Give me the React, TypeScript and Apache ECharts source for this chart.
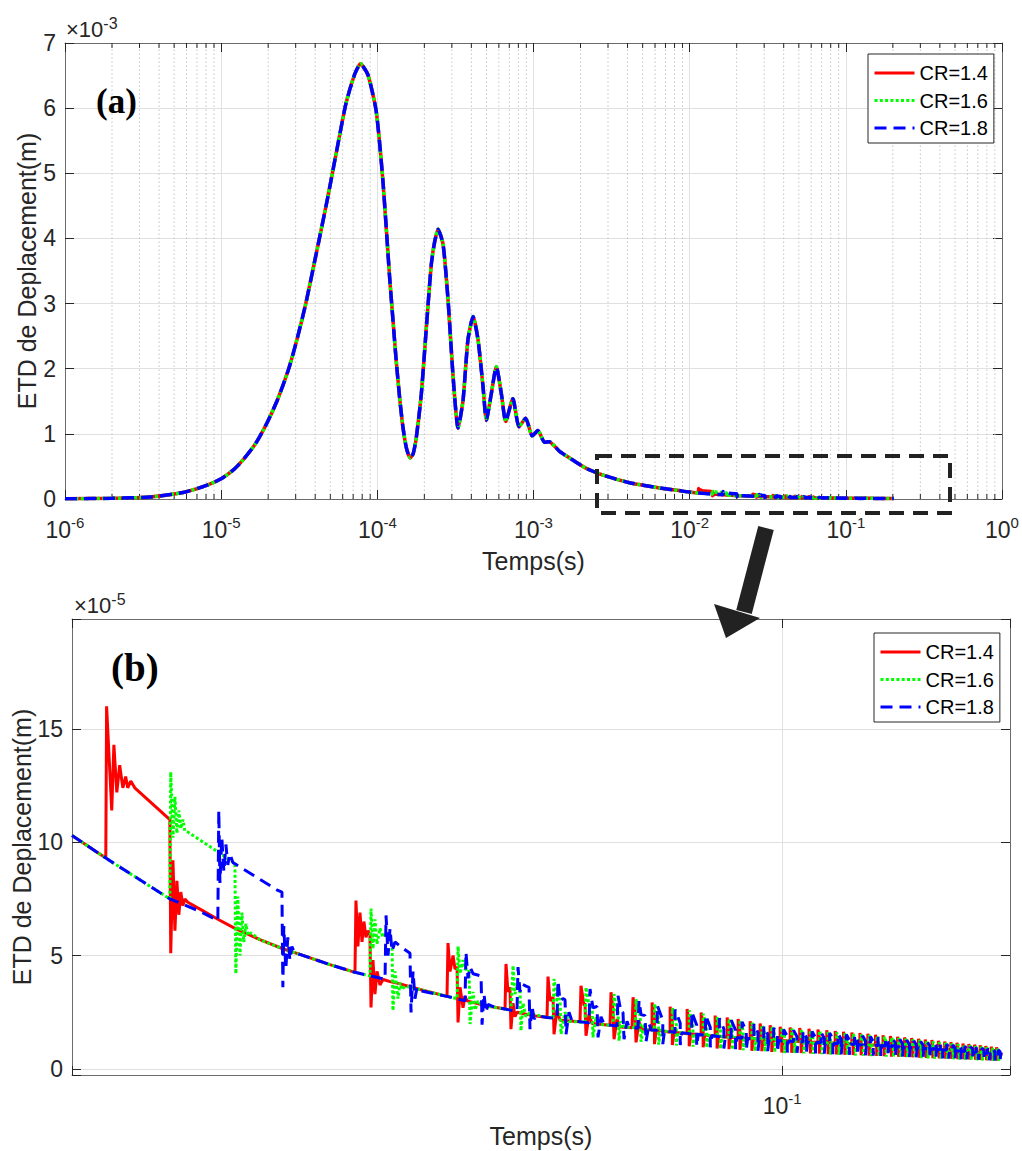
import React, { useEffect, useRef } from "react";
import * as echarts from "echarts";

const FONT = '"Liberation Sans", Arial, Helvetica, sans-serif';
const SERIF = '"Liberation Serif", "Times New Roman", serif';
const INK = "#262626";
const BOX = "#6b6b6b";
const GRID = "#e0e0e0";
const MINOR = "#c4c4c4";

const seriesNames = ["CR=1.4", "CR=1.6", "CR=1.8"];
const seriesColors = ["#ff0000", "#00ff00", "#0000ff"];

// ---- Panel (a): early response common to the three cases. time (s), ETD (x1e-3 m)
const earlyTime = [
  1e-6, 2e-6, 3.5e-6, 5.7e-6, 7.9e-6, 1e-5, 1.202e-5, 1.38e-5, 1.66e-5, 1.95e-5,
  2.291e-5, 2.692e-5, 3.02e-5, 3.467e-5, 4.074e-5, 4.786e-5, 5.495e-5, 6.31e-5, 7.161e-5, 7.8e-5,
  8.71e-5, 9.84e-5, 1.086e-4, 1.199e-4, 1.259e-4, 1.321e-4, 1.39e-4, 1.459e-4, 1.536e-4, 1.622e-4,
  1.698e-4, 1.778e-4, 1.914e-4, 2.061e-4, 2.218e-4, 2.33e-4, 2.449e-4, 2.636e-4, 2.838e-4, 3.055e-4,
  3.289e-4, 3.54e-4, 3.802e-4, 4.102e-4, 4.416e-4, 4.753e-4, 4.989e-4, 5.37e-4, 5.781e-4, 6.223e-4,
  6.637e-4, 7.379e-4, 8.072e-4, 8.913e-4, 9.817e-4, 1.067e-3, 1.178e-3, 1.259e-3, 1.469e-3, 1.702e-3,
  2.178e-3, 2.924e-3, 4.121e-3, 6.412e-3, 8.5e-3,
];
const earlyValue = [
  0.003, 0.01, 0.03, 0.1, 0.2, 0.31, 0.45, 0.6, 0.85, 1.15,
  1.52, 1.98, 2.4, 2.98, 3.78, 4.6, 5.35, 6.08, 6.52, 6.68,
  6.51, 5.95, 4.88, 3.4, 2.75, 2.12, 1.55, 1.1, 0.78, 0.63,
  0.7, 0.95, 1.62, 2.64, 3.61, 3.95, 4.14, 3.91, 3.05, 1.88,
  1.09, 1.52, 2.44, 2.8, 2.44, 1.72, 1.21, 1.62, 2.03, 1.62,
  1.19, 1.54, 1.11, 1.24, 0.97, 1.05, 0.87, 0.88, 0.73, 0.63,
  0.47, 0.35, 0.25, 0.17, 0.13,
];

// ---- Panel (b): late response, [time (s), ETD (x1e-5 m)]
const redPoints = [
  [0.0102, 10.3], [0.01137, 9.3], [0.0114, 16.0], [0.01159, 11.4], [0.01167, 14.3], [0.01178, 12.2],
  [0.01189, 13.4], [0.01201, 12.4], [0.01212, 12.9], [0.0122, 12.4], [0.01232, 12.7], [0.01248, 12.4],
  [0.01397, 11.0], [0.01401, 5.1], [0.01411, 9.2], [0.0142, 6.1], [0.01429, 8.3], [0.01438, 6.8],
  [0.01447, 7.8], [0.01457, 7.2], [0.01466, 7.5], [0.0148, 7.35], [0.01539, 7.05], [0.0163, 6.6],
  [0.01722, 6.2], [0.01866, 5.7], [0.02009, 5.3], [0.02122, 5.05], [0.02337, 4.6], [0.02533, 4.26],
  [0.02541, 7.43], [0.02557, 5.4], [0.02574, 6.9], [0.02591, 5.6], [0.02607, 6.5], [0.02624, 5.8],
  [0.02641, 6.1], [0.02658, 5.9], [0.02667, 2.71], [0.02684, 4.8], [0.02701, 3.3], [0.02719, 4.3],
  [0.02745, 3.7], [0.02772, 3.95], [0.0279, 3.92], [0.02835, 3.85], [0.02928, 3.75], [0.03122, 3.5],
  [0.03405, 3.2], [0.03416, 5.55], [0.03438, 4.3], [0.03472, 5.0], [0.03494, 4.4], [0.03517, 4.5],
  [0.03528, 2.05], [0.03551, 3.6], [0.03585, 2.7], [0.03608, 3.2], [0.03631, 3.0], [0.03848, 2.8],
  [0.04103, 2.64], [0.04116, 4.63], [0.04142, 3.4], [0.04169, 3.6], [0.04182, 1.75], [0.0421, 2.9],
  [0.04237, 2.3], [0.04264, 2.5], [0.04489, 2.35], [0.04696, 2.27], [0.04711, 4.07], [0.04742, 3.0],
  [0.04788, 3.16], [0.04803, 1.53], [0.04849, 2.6], [0.04896, 2.15], [0.05221, 2.08], [0.05238, 3.67],
  [0.05289, 2.8], [0.05306, 2.9], [0.05323, 1.46], [0.05375, 2.4], [0.05427, 2.0], [0.0575, 1.93],
  [0.05769, 3.38], [0.05806, 2.6], [0.05825, 1.31], [0.05881, 2.2], [0.05938, 1.85], [0.06172, 1.82],
  [0.06192, 3.16], [0.06232, 2.5], [0.06252, 1.17], [0.06312, 2.1], [0.06353, 1.76],
];
const greenPoints = [
  [0.0102, 10.3], [0.01137, 9.3], [0.01397, 7.5], [0.01401, 13.1], [0.01411, 10.2], [0.0142, 12.0],
  [0.01429, 10.4], [0.01438, 11.4], [0.01447, 10.6], [0.01457, 11.0], [0.01466, 10.5], [0.0148, 10.45],
  [0.01539, 10.1], [0.01722, 9.07], [0.01727, 4.2], [0.01738, 7.6], [0.0175, 5.0], [0.01761, 6.9],
  [0.01772, 5.6], [0.01784, 6.4], [0.01795, 5.9], [0.01813, 6.0], [0.01866, 5.7], [0.02009, 5.3],
  [0.02122, 5.05], [0.02337, 4.6], [0.02533, 4.26], [0.02658, 4.1], [0.02667, 7.07], [0.02684, 5.3],
  [0.02701, 6.6], [0.02719, 5.5], [0.02745, 6.2], [0.02772, 5.8], [0.0279, 6.0], [0.02853, 5.6],
  [0.02862, 2.57], [0.02881, 4.3], [0.02909, 3.1], [0.02928, 3.8], [0.02946, 3.5], [0.02975, 3.65],
  [0.03122, 3.5], [0.03405, 3.2], [0.03517, 3.1], [0.03528, 5.4], [0.03551, 4.2], [0.03585, 4.8],
  [0.03608, 4.4], [0.03655, 4.4], [0.03667, 1.98], [0.03702, 3.4], [0.03726, 2.6], [0.03762, 3.0],
  [0.03811, 2.8], [0.04103, 2.64], [0.04182, 2.58], [0.0421, 4.56], [0.04237, 3.3], [0.04264, 3.7],
  [0.04305, 3.5], [0.04319, 1.68], [0.04347, 2.9], [0.04389, 2.3], [0.04432, 2.45], [0.04696, 2.27],
  [0.04788, 2.25], [0.04803, 3.97], [0.0485, 3.0], [0.04896, 3.1], [0.04912, 1.53], [0.04976, 2.5],
  [0.0504, 2.1], [0.05306, 2.05], [0.05323, 3.6], [0.05375, 2.8], [0.05427, 2.85], [0.05444, 1.39],
  [0.05497, 2.3], [0.05533, 1.97], [0.05806, 1.91], [0.05825, 3.3], [0.05881, 2.5], [0.059, 2.55],
  [0.0592, 1.24], [0.05957, 2.1], [0.06015, 1.85], [0.06232, 1.81], [0.06252, 3.08], [0.06292, 2.4],
  [0.06333, 2.4], [0.06353, 1.2], [0.06416, 2.0], [0.06456, 1.74],
];
const bluePoints = [
  [0.0102, 10.3], [0.01137, 9.3], [0.01397, 7.5], [0.01539, 6.95], [0.0163, 6.55], [0.01635, 11.4],
  [0.01641, 8.2], [0.01651, 10.2], [0.01662, 8.7], [0.01673, 9.9], [0.01683, 9.0], [0.01694, 9.5],
  [0.01711, 9.1], [0.01722, 9.05], [0.0197, 7.9], [0.02003, 7.8], [0.02009, 3.6], [0.02015, 6.3],
  [0.02028, 4.4], [0.02041, 5.8], [0.02055, 4.8], [0.02068, 5.4], [0.02088, 5.1], [0.02122, 5.05],
  [0.02337, 4.6], [0.02533, 4.26], [0.0279, 3.95], [0.02799, 6.77], [0.02817, 5.0], [0.02835, 6.2],
  [0.02853, 5.2], [0.02881, 5.6], [0.02946, 5.35], [0.03023, 5.1], [0.03033, 2.49], [0.03053, 4.3],
  [0.03072, 3.1], [0.03092, 3.6], [0.03122, 3.45], [0.03405, 3.2], [0.03608, 3.0], [0.03619, 5.15],
  [0.03643, 4.0], [0.03667, 4.5], [0.03702, 4.2], [0.03799, 4.1], [0.03811, 1.95], [0.03835, 3.3],
  [0.0386, 2.5], [0.03886, 2.85], [0.03948, 2.75], [0.04103, 2.64], [0.04264, 2.53], [0.04278, 4.49],
  [0.04305, 3.4], [0.04333, 3.75], [0.04389, 3.65], [0.04432, 3.6], [0.04446, 1.75], [0.04475, 2.8],
  [0.04504, 2.2], [0.04548, 2.35], [0.04696, 2.27], [0.0485, 2.22], [0.04865, 3.89], [0.04896, 3.0],
  [0.04944, 3.1], [0.04976, 3.05], [0.04992, 1.53], [0.0504, 2.5], [0.0509, 2.1], [0.05221, 2.08],
  [0.05375, 2.03], [0.05392, 3.52], [0.05444, 2.7], [0.05515, 2.75], [0.05533, 1.39], [0.05586, 2.3],
  [0.05642, 1.97], [0.05881, 1.89], [0.059, 3.23], [0.05957, 2.5], [0.05995, 2.5], [0.06015, 1.31],
  [0.06073, 2.1], [0.06114, 1.84], [0.06292, 1.79], [0.06312, 3.01], [0.06353, 2.4], [0.06435, 2.35],
  [0.06456, 1.2], [0.06519, 2.0], [0.06562, 1.72],
];

// dense pulses: [tUp, base, peak, tDown, plateau, low, tBack]
const redPulses = [
  [0.06583, 1.72, 2.93, 0.06633, 2.2, 1.09, 0.06673], [0.06976, 1.62, 2.74, 0.07026, 2.07, 1.05, 0.07066],
  [0.07367, 1.55, 2.64, 0.07417, 1.99, 1.0, 0.07457], [0.07707, 1.49, 2.49, 0.07757, 1.89, 0.95, 0.07797],
  [0.08062, 1.44, 2.35, 0.08112, 1.8, 0.9, 0.08152], [0.08379, 1.4, 2.27, 0.08429, 1.75, 0.87, 0.08469],
  [0.08681, 1.37, 2.2, 0.08731, 1.7, 0.84, 0.08771], [0.09022, 1.33, 2.1, 0.09072, 1.64, 0.8, 0.09112],
  [0.09317, 1.3, 2.0, 0.09367, 1.58, 0.78, 0.09407], [0.09621, 1.27, 1.93, 0.09671, 1.53, 0.75, 0.09711],
  [0.09936, 1.25, 1.86, 0.09986, 1.49, 0.72, 0.10026], [0.1026, 1.23, 1.83, 0.1031, 1.47, 0.71, 0.1035],
  [0.1058, 1.21, 1.8, 0.1063, 1.45, 0.7, 0.1067], [0.109, 1.19, 1.77, 0.1095, 1.42, 0.68, 0.1099],
  [0.1122, 1.17, 1.74, 0.1127, 1.4, 0.67, 0.1131], [0.1154, 1.15, 1.7, 0.1159, 1.37, 0.65, 0.1163],
  [0.1186, 1.14, 1.67, 0.1191, 1.35, 0.64, 0.1195], [0.1218, 1.12, 1.64, 0.1223, 1.33, 0.62, 0.1227],
  [0.1251, 1.1, 1.61, 0.1256, 1.3, 0.61, 0.126], [0.1284, 1.08, 1.58, 0.1289, 1.28, 0.6, 0.1293],
  [0.1317, 1.06, 1.55, 0.1322, 1.26, 0.58, 0.1326], [0.135, 1.05, 1.51, 0.1355, 1.23, 0.57, 0.1359],
  [0.1383, 1.03, 1.48, 0.1388, 1.21, 0.56, 0.1392], [0.1416, 1.01, 1.45, 0.1421, 1.19, 0.54, 0.1425],
  [0.1449, 0.99, 1.42, 0.1454, 1.16, 0.53, 0.1458], [0.1482, 0.97, 1.39, 0.1487, 1.14, 0.52, 0.1491],
  [0.1516, 0.95, 1.36, 0.1521, 1.11, 0.51, 0.1525], [0.155, 0.93, 1.33, 0.1555, 1.09, 0.49, 0.1559],
  [0.1584, 0.91, 1.3, 0.1589, 1.07, 0.48, 0.1593], [0.1618, 0.89, 1.27, 0.1623, 1.04, 0.47, 0.1627],
  [0.1652, 0.87, 1.24, 0.1657, 1.02, 0.46, 0.1661], [0.1686, 0.85, 1.21, 0.1691, 0.99, 0.45, 0.1695],
  [0.172, 0.83, 1.18, 0.1725, 0.97, 0.44, 0.1729], [0.1754, 0.81, 1.15, 0.1759, 0.95, 0.43, 0.1763],
  [0.1788, 0.79, 1.12, 0.1793, 0.92, 0.42, 0.1797], [0.1822, 0.77, 1.1, 0.1827, 0.9, 0.41, 0.1831],
  [0.1856, 0.75, 1.07, 0.1861, 0.88, 0.4, 0.1865], [0.189, 0.73, 1.04, 0.1895, 0.85, 0.39, 0.1899],
  [0.1924, 0.71, 1.01, 0.1929, 0.83, 0.38, 0.1933], [0.1958, 0.69, 0.98, 0.1963, 0.81, 0.37, 0.1967],
  [0.1992, 0.67, 0.95, 0.1997, 0.78, 0.36, 0.2001],
];
const greenPulses = [
  [0.06633, 1.71, 2.87, 0.06723, 2.2, 1.07, 0.06763], [0.07026, 1.61, 2.68, 0.07116, 2.06, 1.03, 0.07156],
  [0.07417, 1.54, 2.58, 0.07507, 1.98, 0.98, 0.07547], [0.07757, 1.48, 2.43, 0.07847, 1.88, 0.93, 0.07887],
  [0.08112, 1.43, 2.29, 0.08202, 1.79, 0.88, 0.08242], [0.08429, 1.39, 2.21, 0.08519, 1.74, 0.85, 0.08559],
  [0.08731, 1.36, 2.14, 0.08821, 1.69, 0.82, 0.08861], [0.09072, 1.32, 2.04, 0.09162, 1.63, 0.78, 0.09202],
  [0.09367, 1.29, 1.94, 0.09457, 1.57, 0.76, 0.09497], [0.09671, 1.26, 1.87, 0.09761, 1.52, 0.73, 0.09801],
  [0.09986, 1.24, 1.8, 0.10076, 1.48, 0.7, 0.10116], [0.1031, 1.22, 1.77, 0.104, 1.46, 0.69, 0.1044],
  [0.1063, 1.2, 1.74, 0.1072, 1.43, 0.68, 0.1076], [0.1095, 1.18, 1.71, 0.1104, 1.41, 0.66, 0.1108],
  [0.1127, 1.16, 1.68, 0.1136, 1.38, 0.65, 0.114], [0.1159, 1.14, 1.64, 0.1168, 1.36, 0.63, 0.1172],
  [0.1191, 1.13, 1.61, 0.12, 1.34, 0.62, 0.1204], [0.1223, 1.11, 1.58, 0.1232, 1.31, 0.6, 0.1236],
  [0.1256, 1.09, 1.55, 0.1265, 1.29, 0.59, 0.1269], [0.1289, 1.07, 1.52, 0.1298, 1.27, 0.58, 0.1302],
  [0.1322, 1.05, 1.49, 0.1331, 1.24, 0.56, 0.1335], [0.1355, 1.04, 1.45, 0.1364, 1.22, 0.55, 0.1368],
  [0.1388, 1.02, 1.42, 0.1397, 1.2, 0.54, 0.1401], [0.1421, 1.0, 1.39, 0.143, 1.17, 0.52, 0.1434],
  [0.1454, 0.98, 1.36, 0.1463, 1.15, 0.51, 0.1467], [0.1487, 0.96, 1.33, 0.1496, 1.12, 0.5, 0.15],
  [0.1521, 0.94, 1.3, 0.153, 1.1, 0.49, 0.1534], [0.1555, 0.92, 1.27, 0.1564, 1.08, 0.47, 0.1568],
  [0.1589, 0.9, 1.24, 0.1598, 1.05, 0.46, 0.1602], [0.1623, 0.88, 1.21, 0.1632, 1.03, 0.45, 0.1636],
  [0.1657, 0.86, 1.18, 0.1666, 1.0, 0.44, 0.167], [0.1691, 0.84, 1.15, 0.17, 0.98, 0.43, 0.1704],
  [0.1725, 0.82, 1.12, 0.1734, 0.96, 0.42, 0.1738], [0.1759, 0.8, 1.09, 0.1768, 0.93, 0.41, 0.1772],
  [0.1793, 0.78, 1.06, 0.1802, 0.91, 0.4, 0.1806], [0.1827, 0.76, 1.04, 0.1836, 0.89, 0.39, 0.184],
  [0.1861, 0.74, 1.01, 0.187, 0.86, 0.38, 0.1874], [0.1895, 0.72, 0.98, 0.1904, 0.84, 0.37, 0.1908],
  [0.1929, 0.7, 0.95, 0.1938, 0.82, 0.36, 0.1942], [0.1963, 0.68, 0.92, 0.1972, 0.79, 0.35, 0.1976],
  [0.1997, 0.66, 0.89, 0.2006, 0.77, 0.34, 0.201],
];
const bluePulses = [
  [0.06693, 1.7, 2.81, 0.06813, 2.15, 1.09, 0.06853], [0.07086, 1.6, 2.62, 0.07206, 2.02, 1.05, 0.07246],
  [0.07477, 1.53, 2.52, 0.07597, 1.94, 1.0, 0.07637], [0.07817, 1.47, 2.37, 0.07937, 1.84, 0.95, 0.07977],
  [0.08172, 1.42, 2.23, 0.08292, 1.76, 0.9, 0.08332], [0.08489, 1.38, 2.15, 0.08609, 1.71, 0.87, 0.08649],
  [0.08791, 1.35, 2.08, 0.08911, 1.66, 0.84, 0.08951], [0.09132, 1.31, 1.98, 0.09252, 1.6, 0.8, 0.09292],
  [0.09427, 1.28, 1.88, 0.09547, 1.54, 0.78, 0.09587], [0.09731, 1.25, 1.81, 0.09851, 1.49, 0.75, 0.09891],
  [0.10046, 1.23, 1.74, 0.10166, 1.45, 0.72, 0.10206], [0.1037, 1.21, 1.71, 0.1049, 1.42, 0.71, 0.1053],
  [0.1069, 1.19, 1.68, 0.1081, 1.4, 0.7, 0.1085], [0.1101, 1.17, 1.65, 0.1113, 1.38, 0.68, 0.1117],
  [0.1133, 1.15, 1.62, 0.1145, 1.35, 0.67, 0.1149], [0.1165, 1.13, 1.58, 0.1177, 1.33, 0.65, 0.1181],
  [0.1197, 1.12, 1.55, 0.1209, 1.31, 0.64, 0.1213], [0.1229, 1.1, 1.52, 0.1241, 1.28, 0.62, 0.1245],
  [0.1262, 1.08, 1.49, 0.1274, 1.26, 0.61, 0.1278], [0.1295, 1.06, 1.46, 0.1307, 1.24, 0.6, 0.1311],
  [0.1328, 1.04, 1.43, 0.134, 1.21, 0.58, 0.1344], [0.1361, 1.03, 1.39, 0.1373, 1.19, 0.57, 0.1377],
  [0.1394, 1.01, 1.36, 0.1406, 1.17, 0.56, 0.141], [0.1427, 0.99, 1.33, 0.1439, 1.14, 0.54, 0.1443],
  [0.146, 0.97, 1.3, 0.1472, 1.12, 0.53, 0.1476], [0.1493, 0.95, 1.27, 0.1505, 1.09, 0.52, 0.1509],
  [0.1527, 0.93, 1.24, 0.1539, 1.07, 0.51, 0.1543], [0.1561, 0.91, 1.21, 0.1573, 1.05, 0.49, 0.1577],
  [0.1595, 0.89, 1.18, 0.1607, 1.02, 0.48, 0.1611], [0.1629, 0.87, 1.15, 0.1641, 1.0, 0.47, 0.1645],
  [0.1663, 0.85, 1.12, 0.1675, 0.97, 0.46, 0.1679], [0.1697, 0.83, 1.09, 0.1709, 0.95, 0.45, 0.1713],
  [0.1731, 0.81, 1.06, 0.1743, 0.93, 0.44, 0.1747], [0.1765, 0.79, 1.03, 0.1777, 0.9, 0.43, 0.1781],
  [0.1799, 0.77, 1.0, 0.1811, 0.88, 0.42, 0.1815], [0.1833, 0.75, 0.98, 0.1845, 0.86, 0.41, 0.1849],
  [0.1867, 0.73, 0.95, 0.1879, 0.83, 0.4, 0.1883], [0.1901, 0.71, 0.92, 0.1913, 0.81, 0.39, 0.1917],
  [0.1935, 0.69, 0.89, 0.1947, 0.79, 0.38, 0.1951], [0.1969, 0.67, 0.86, 0.1981, 0.76, 0.37, 0.1985],
  [0.2003, 0.66, 0.84, 0.2015, 0.75, 0.36, 0.2019],
];
const endPoint = [0.203, 0.65];

// axis ranges
const topXRange = [1e-6, 1];
const topYRange = [0, 7];
const botXRange = [0.0102, 0.208];
const botYRange = [-0.27, 19.85];
const minorDecades = [1e-6, 1e-5, 1e-4, 1e-3, 1e-2, 1e-1];
const minorSteps = [2, 3, 4, 5, 6, 7, 8, 9];

function buildLate(points: number[][], pulses: number[][], end: number[]) {
  const out: number[][] = points.map((p) => [p[0], p[1]]);
  pulses.forEach((r) => {
    out.push([r[0], r[1]], [r[0], r[2]], [r[3], r[4]], [r[3], r[5]], [r[6], r[1]]);
  });
  out.push([end[0], end[1]]);
  return out;
}

const lateData = [
  buildLate(redPoints, redPulses, endPoint),
  buildLate(greenPoints, greenPulses, endPoint),
  buildLate(bluePoints, bluePulses, endPoint),
];
const earlyPairs = earlyTime.map((t, i) => [t, earlyValue[i]]);
const fullData = lateData.map((d) => earlyPairs.concat(d.map((p) => [p[0], p[1] * 0.01])));

const lineTypes: any[] = ["solid", [3, 2.3], [12, 7]];
const minorTicks = minorDecades.flatMap((d) => minorSteps.map((k) => k * d));

// minor grid / minor ticks of panel (a) as broken polylines through the axes
const minorGridData: any[] = [];
minorTicks.forEach((v) => {
  minorGridData.push([v, topYRange[0]], [v, topYRange[1]], [v, "-"]);
});
const minorTickData: any[] = [];
minorTicks.forEach((v) => {
  minorTickData.push([v, topYRange[0]], [v, topYRange[0] + 0.077], [v, "-"]);
  minorTickData.push([v, topYRange[1]], [v, topYRange[1] - 0.077], [v, "-"]);
});

const richAxis = {
  b: { fontSize: 23, fontFamily: FONT, color: INK, lineHeight: 30 },
  s: { fontSize: 15, fontFamily: FONT, color: INK, lineHeight: 11, verticalAlign: "top" },
};
const richMult = {
  b: { fontSize: 22, fontFamily: FONT, fill: INK, lineHeight: 28 },
  s: { fontSize: 16, fontFamily: FONT, fill: INK, lineHeight: 12, verticalAlign: "top" },
};

function powLabel(v: number) {
  const l = Math.log10(v);
  const e = Math.round(l);
  if (Math.abs(l - e) > 1e-6) return "";
  return `{b|10}{s|${e}}`;
}

function curve(i: number, data: number[][], axis: number, smooth: number | boolean, width: number) {
  return {
    type: "line",
    name: seriesNames[i],
    xAxisIndex: axis,
    yAxisIndex: axis,
    data,
    showSymbol: false,
    symbol: "none",
    smooth,
    silent: true,
    animation: false,
    z: 3 + i,
    emphasis: { disabled: true },
    itemStyle: { color: seriesColors[i] },
    lineStyle: { color: seriesColors[i], width, type: lineTypes[i] },
  };
}

function helper(data: any[], color: string, type: any, z: number) {
  return {
    type: "line",
    xAxisIndex: 0,
    yAxisIndex: 0,
    data,
    connectNulls: false,
    showSymbol: false,
    symbol: "none",
    silent: true,
    animation: false,
    z,
    emphasis: { disabled: true },
    lineStyle: { color, width: 1, type },
  };
}

const axisLine = { show: true, onZero: false, lineStyle: { color: BOX, width: 1 } };
const tickIn = { show: true, inside: true, length: 9, lineStyle: { color: INK, width: 1 } };
const nameStyle = { fontSize: 25, fontFamily: FONT, color: INK };

function legendCfg(left: number, top: number) {
  return {
    show: true,
    orient: "vertical",
    left,
    top,
    data: seriesNames,
    selectedMode: false,
    itemWidth: 40,
    itemHeight: 14,
    itemGap: 5.5,
    padding: [8, 6, 4, 5],
    backgroundColor: "#ffffff",
    borderColor: INK,
    borderWidth: 1,
    borderRadius: 0,
    itemStyle: { opacity: 0, borderWidth: 0 },
    lineStyle: { width: 3 },
    textStyle: { fontSize: 20, fontFamily: FONT, color: "#000", lineHeight: 22 },
  };
}

const option: any = {
  animation: false,
  backgroundColor: "#ffffff",
  grid: [
    { left: 65, top: 43, width: 937, height: 456, outerBoundsMode: "none", containLabel: false },
    { left: 72, top: 619, width: 938, height: 456, outerBoundsMode: "none", containLabel: false },
  ],
  xAxis: [
    {
      gridIndex: 0, type: "log", logBase: 10, min: topXRange[0], max: topXRange[1], position: "bottom",
      axisLine, axisTick: tickIn,
      axisLabel: { formatter: powLabel, rich: richAxis, margin: 16 },
      splitLine: { show: true, lineStyle: { color: GRID, width: 1 } },
      name: "Temps(s)", nameLocation: "middle", nameGap: 49, nameTextStyle: nameStyle, nameMoveOverlap: false,
    },
    {
      gridIndex: 0, type: "log", logBase: 10, min: topXRange[0], max: topXRange[1], position: "top",
      axisLine, axisTick: tickIn, axisLabel: { show: false }, splitLine: { show: false },
    },
    {
      gridIndex: 1, type: "log", logBase: 10, min: botXRange[0], max: botXRange[1], position: "bottom",
      axisLine, axisTick: tickIn,
      axisLabel: { formatter: powLabel, rich: richAxis, margin: 16 },
      splitLine: { show: true, lineStyle: { color: GRID, width: 1 } },
      name: "Temps(s)", nameLocation: "middle", nameGap: 48, nameTextStyle: nameStyle, nameMoveOverlap: false,
    },
    {
      gridIndex: 1, type: "log", logBase: 10, min: botXRange[0], max: botXRange[1], position: "top",
      axisLine, axisTick: tickIn, axisLabel: { show: false }, splitLine: { show: false },
    },
  ],
  yAxis: [
    {
      gridIndex: 0, type: "value", min: topYRange[0], max: topYRange[1], interval: 1, position: "left",
      axisLine, axisTick: tickIn,
      axisLabel: { fontSize: 23, fontFamily: FONT, color: INK, margin: 9 },
      splitLine: { show: true, lineStyle: { color: GRID, width: 1 } },
      name: "ETD de Deplacement(m)", nameLocation: "middle", nameGap: 26, nameTextStyle: nameStyle, nameMoveOverlap: false,
    },
    {
      gridIndex: 0, type: "value", min: topYRange[0], max: topYRange[1], interval: 1, position: "right",
      axisLine, axisTick: tickIn, axisLabel: { show: false }, splitLine: { show: false },
    },
    {
      gridIndex: 1, type: "value", min: botYRange[0], max: botYRange[1], splitNumber: 5, position: "left",
      axisLine, axisTick: tickIn,
      axisLabel: {
        fontSize: 23, fontFamily: FONT, color: INK, margin: 9,
        formatter: (v: number) => (Math.abs(v - Math.round(v / 5) * 5) < 1e-6 ? String(Math.round(v)) : ""),
      },
      splitLine: { show: true, lineStyle: { color: GRID, width: 1 } },
      name: "ETD de Deplacement(m)", nameLocation: "middle", nameGap: 38, nameTextStyle: nameStyle, nameMoveOverlap: false,
    },
    {
      gridIndex: 1, type: "value", min: botYRange[0], max: botYRange[1], splitNumber: 5, position: "right",
      axisLine, axisTick: tickIn, axisLabel: { show: false }, splitLine: { show: false },
    },
  ],
  legend: [legendCfg(868, 54), legendCfg(874, 633)],
  series: [
    helper(minorGridData, MINOR, [1.5, 2.5], 1),
    helper(minorTickData, INK, "solid", 2),
    curve(0, fullData[0], 0, 0.2, 3.5),
    curve(1, fullData[1], 0, 0.2, 3.5),
    curve(2, fullData[2], 0, 0.2, 3.5),
    curve(0, lateData[0], 2, false, 3),
    curve(1, lateData[1], 2, false, 3),
    curve(2, lateData[2], 2, false, 3),
  ],
  graphic: [
    {
      type: "text", x: 96, y: 84, z: 100, silent: true,
      style: { text: "(a)", font: `bold 35px ${SERIF}`, fill: "#000" },
    },
    {
      type: "text", x: 111, y: 648, z: 100, silent: true,
      style: { text: "(b)", font: `bold 39px ${SERIF}`, fill: "#000" },
    },
    {
      type: "text", x: 66, y: 15, z: 100, silent: true,
      style: { text: "{b|×10}{s|-3}", rich: richMult, fill: INK },
    },
    {
      type: "text", x: 74, y: 591, z: 100, silent: true,
      style: { text: "{b|×10}{s|-5}", rich: richMult, fill: INK },
    },
    {
      type: "rect", z: 100, silent: true,
      shape: { x: 597, y: 456, width: 353, height: 57 },
      style: { fill: "none", stroke: "#222", lineWidth: 4, lineDash: [15, 9] },
    },
    {
      type: "line", z: 100, silent: true,
      shape: { x1: 766, y1: 528, x2: 744, y2: 612 },
      style: { stroke: "#222", lineWidth: 16 },
    },
    {
      type: "polygon", z: 100, silent: true,
      shape: { points: [[714, 604], [760, 618], [726, 638]] },
      style: { fill: "#222" },
    },
  ],
};

export default function App() {
  const ref = useRef<HTMLDivElement>(null);
  useEffect(() => {
    if (!ref.current) return;
    const chart = echarts.init(ref.current, null, { renderer: "svg" });
    chart.setOption(option);
    return () => chart.dispose();
  }, []);
  return (
    <div
      ref={ref}
      style={{ position: "absolute", left: 0, top: 0, width: 1022, height: 1151, background: "#fff" }}
    />
  );
}
